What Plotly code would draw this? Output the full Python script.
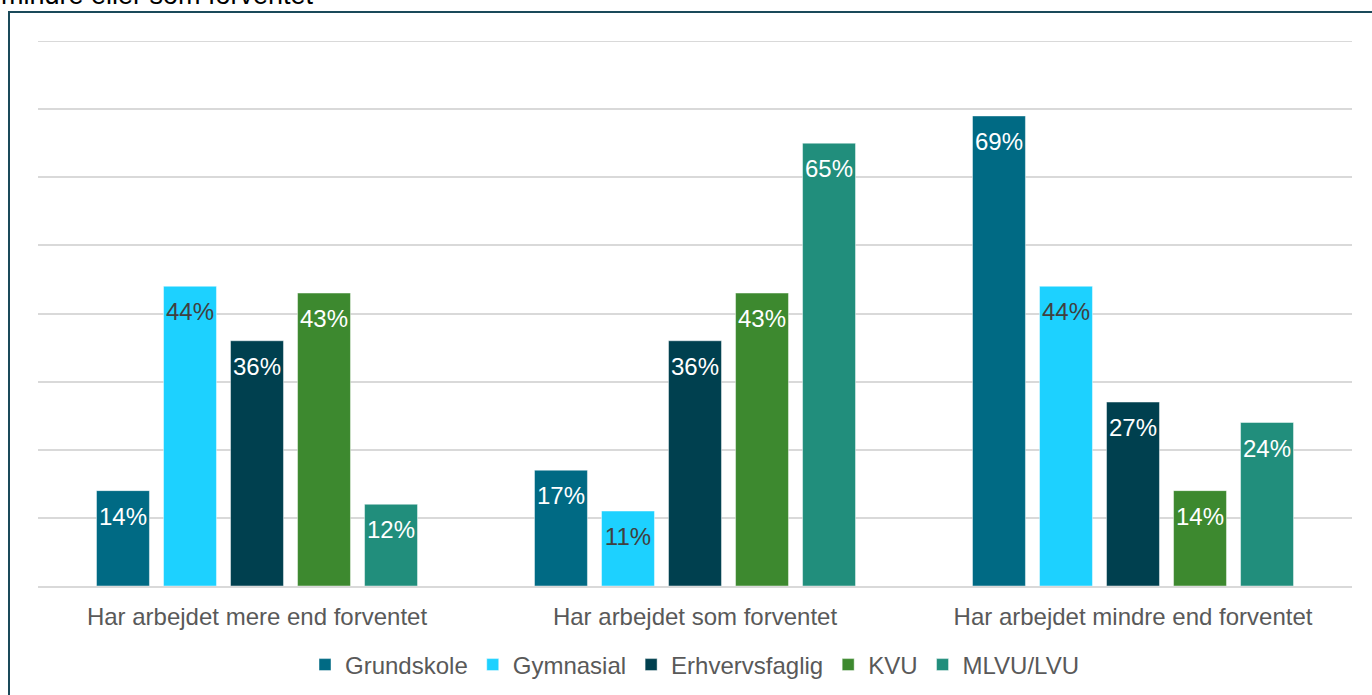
import plotly.graph_objects as go

categories = ["Har arbejdet mere end forventet", "Har arbejdet som forventet", "Har arbejdet mindre end forventet"]
series_names = ["Grundskole", "Gymnasial", "Erhvervsfaglig", "KVU", "MLVU/LVU"]
grundskole = [14, 17, 69]
gymnasial = [44, 11, 44]
erhvervsfaglig = [36, 36, 27]
kvu = [43, 43, 14]
mlvu_lvu = [12, 65, 24]
colors = ["#006A84", "#1DD1FF", "#00404F", "#3D892F", "#218E7C"]
label_colors = ["#FFFFFF", "#404040", "#FFFFFF", "#FFFFFF", "#FFFFFF"]

W, H = 1372, 695
ML, MR, MT, MB = 38, 20, 41, 109
pw, ph = W - ML - MR, H - MT - MB
FONT = "Liberation Sans, Arial"

def px_x(p):
    return (p - ML) / pw

def px_y(p):
    return 1 - (p - MT) / ph

fig = go.Figure()
all_series = [grundskole, gymnasial, erhvervsfaglig, kvu, mlvu_lvu]
for i, (name, vals, c) in enumerate(zip(series_names, all_series, colors)):
    fig.add_trace(go.Bar(
        name=name, x=categories, y=vals, offsetgroup=str(i),
        marker=dict(color=c, line=dict(color="rgba(255,255,255,0.45)", width=1)),
    ))
for i, (name, vals, lc) in enumerate(zip(series_names, all_series, label_colors)):
    fig.add_trace(go.Scatter(
        x=categories, y=vals, offsetgroup=str(i), mode="markers+text",
        text=[f"{v}%" for v in vals], textposition="bottom center",
        textfont=dict(color=lc, size=24, family=FONT),
        marker=dict(size=24, opacity=0), showlegend=False, hoverinfo="skip",
    ))

fig.update_layout(
    width=W, height=H,
    margin=dict(l=ML, r=MR, t=MT, b=MB, pad=0, autoexpand=False),
    paper_bgcolor="white", plot_bgcolor="white",
    barmode="group", bargap=0.235, bargroupgap=0.21,
    scattermode="group", scattergap=0.235,
    font=dict(family=FONT, color="#595959", size=24),
    xaxis=dict(showline=True, linecolor="#D9D9D9", linewidth=2, automargin=False,
               ticks="outside", ticklen=8, tickcolor="rgba(0,0,0,0)",
               tickfont=dict(size=24, color="#595959")),
    yaxis=dict(range=[0, 80], dtick=10, showticklabels=False, gridcolor="#D9D9D9",
               gridwidth=2, zeroline=False, showline=False, automargin=False),
    legend=dict(orientation="h", x=0.5, xanchor="center", y=px_y(665), yanchor="middle",
                font=dict(size=24, color="#595959"), itemwidth=30, traceorder="normal"),
    showlegend=True,
)

# top gridline at the 80% edge of the value axis
fig.add_shape(type="line", xref="paper", yref="y", x0=0, x1=1, y0=80, y1=80,
              line=dict(color="#D9D9D9", width=2), layer="below")

fig.add_annotation(text="mindre eller som forventet", xref="paper", yref="paper",
                   x=px_x(-1), y=px_y(12), xanchor="left", yanchor="bottom",
                   showarrow=False, font=dict(size=27, color="#000000"))

fig.add_shape(type="rect", xref="paper", yref="paper",
              x0=px_x(9), x1=px_x(1380), y0=px_y(705), y1=px_y(12),
              line=dict(color="#1A4A5A", width=2), fillcolor="rgba(0,0,0,0)", layer="above")

fig.write_html("out.html")
